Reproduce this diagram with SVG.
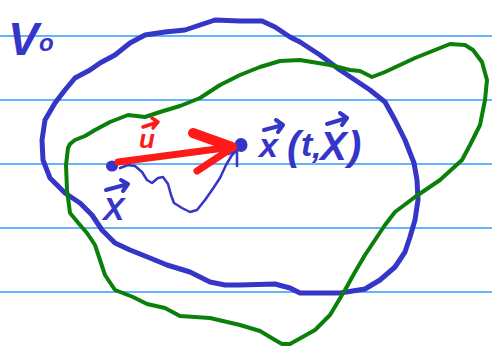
<svg xmlns="http://www.w3.org/2000/svg" width="492" height="348" viewBox="0 0 492 348">
<style>
.rule{stroke:#3399ff;stroke-width:1.6}
.b{fill:none;stroke:#3535c8;stroke-linecap:round;stroke-linejoin:round}
.g{fill:none;stroke:#0a800a;stroke-width:4;stroke-linecap:round;stroke-linejoin:round}
.r{fill:none;stroke:#ff1a1a;stroke-linecap:round;stroke-linejoin:round}
.tb{fill:#3535c8;font-family:"Liberation Sans",Arial,sans-serif;font-style:italic;font-weight:bold}
.tr{fill:#ff1a1a;font-family:"Liberation Sans",Arial,sans-serif;font-style:italic;font-weight:bold}
</style>
<rect width="492" height="348" fill="#ffffff"/>
<g id="rules">
<line class="rule" x1="0" y1="36" x2="492" y2="36"/>
<line class="rule" x1="0" y1="100" x2="492" y2="100"/>
<line class="rule" x1="0" y1="164" x2="492" y2="164"/>
<line class="rule" x1="0" y1="228" x2="492" y2="228"/>
<line class="rule" x1="0" y1="292" x2="492" y2="292"/>
</g>
<g id="V0">
<text class="tb" x="8" y="55" font-size="46">V</text>
<text class="tb" x="39" y="51" font-size="24">o</text>
</g>
<g id="region-blue">
<path class="b" stroke-width="5" d="M65,90 L55,103 L45,120 L42,140 L43,160 L50,178 L65,193 L80,203 L92,215 L102,230 L115,243 L130,250 L150,258 L167,265 L190,272 L210,282 L225,285 L240,285 L275,284 L290,288 L300,293 L320,293 L340,293 L365,289 L380,280 L395,267 L405,252 L410,237 L415,220 L418,200 L417,180 L414,163 L405,140 L395,120 L385,102 L370,90 L355,80 L340,70 L320,55 L300,42 L290,37 L275,27 L262,21 L240,21 L215,20 L200,25 L185,30 L165,32 L145,35 L130,43 L115,55 L100,63 L90,70 L75,78 Z"/>
</g>
<g id="region-green">
<path class="g" d="M128,115 L145,117 L160,112 L180,106 L200,98 L220,85 L240,75 L260,67 L280,61 L300,60 L330,65 L350,70 L360,71 L372,77 L385,72 L400,65 L415,58 L430,52 L450,44 L465,45 L473,50 L482,62 L487,80 L485,100 L480,125 L470,145 L462,160 L440,180 L415,197 L395,212 L385,225 L375,240 L365,255 L355,272 L345,290 L330,315 L315,330 L290,344 L282,344 L275,340 L260,331 L240,325 L210,318 L180,316 L165,308 L147,304 L133,297 L115,290 L105,275 L100,260 L95,245 L87,233 L80,225 L70,213 L67,190 L66,165 L68,148 L70,144 L75,140 L85,136 L95,130 L110,122 Z"/>
</g>
<g id="path">
<path class="b" stroke-width="2.5" d="M120,168 L128,165 L135,166 L142,172 L147,180 L152,183 L158,178 L163,177 L168,184 L171,195 L174,203 L182,208 L190,212 L197,210 L205,200 L212,190 L220,178 L226,165 L232,155 L237,150"/>
<path class="b" stroke-width="2.5" d="M237,150 L237,166 M229,154 L235,150"/>
</g>
<g id="point-X">
<ellipse cx="112" cy="166" rx="6" ry="5.5" fill="#3535c8"/>
<text class="tb" x="103" y="220" font-size="32">X</text>
<path class="b" stroke-width="4" d="M106,190 L128,184 M121,180 L128,184 L123,191"/>
</g>
<g id="point-x">
<ellipse cx="241" cy="145" rx="6.5" ry="7" fill="#3535c8"/>
<text class="tb" x="259" y="157" font-size="34">x</text>
<path class="b" stroke-width="4" d="M264,130 L283,125 M276,120 L283,125 L278,132"/>
<text class="tb" x="287" y="160" font-size="40">(</text>
<text class="tb" x="301" y="156" font-size="34">t</text>
<text class="tb" x="312" y="158" font-size="34">,</text>
<text class="tb" x="320" y="160" font-size="40">X</text>
<path class="b" stroke-width="4" d="M327,124 L347,118 M340,113 L347,118 L342,125"/>
<text class="tb" x="348" y="160" font-size="40">)</text>
</g>
<g id="velocity">
<path class="r" stroke-width="7" d="M118,162 L232,147"/>
<path class="r" stroke-width="10" d="M193,133 L232,147"/>
<path class="r" stroke-width="7" d="M197,171 L232,148"/>
<text class="tr" x="139" y="148" font-size="26">u</text>
<path class="r" stroke-width="3.5" d="M143,127 L158,122 M152,118 L158,122 L153,128"/>
</g>
</svg>
